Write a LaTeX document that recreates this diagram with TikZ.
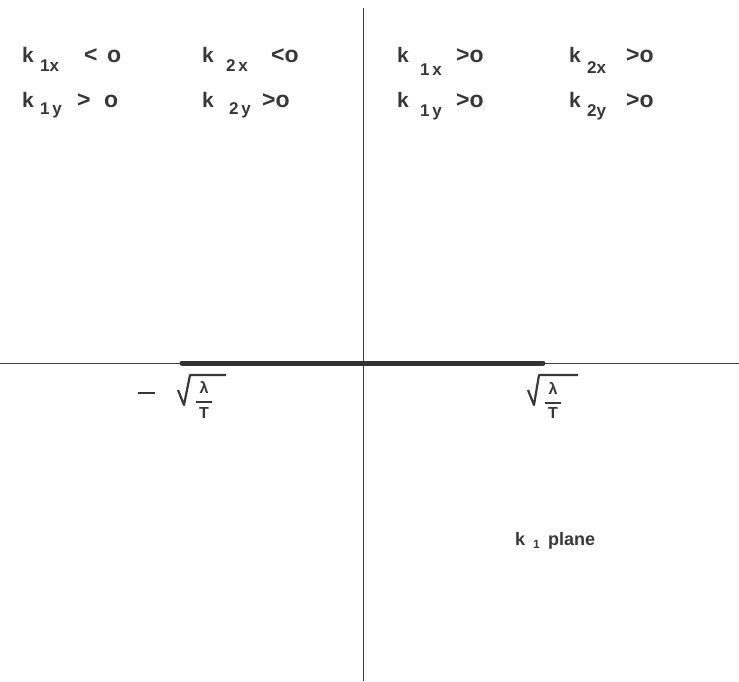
\documentclass[tikz,border=0pt]{standalone}
\usepackage{fontspec}
\setmainfont{Liberation Sans}
\begin{document}
\begin{tikzpicture}[x=1pt,y=-1pt,
  ink/.style={text=black!78},
  kk/.style={ink,anchor=base west,inner sep=0pt,font=\fontsize{21}{21}\selectfont\bfseries},
  sb/.style={ink,anchor=base west,inner sep=0pt,font=\fontsize{17}{17}\selectfont\bfseries},
  rel/.style={ink,anchor=base west,inner sep=0pt,font=\fontsize{23}{23}\selectfont\bfseries},
  frac/.style={ink,inner sep=0pt,font=\fontsize{16}{16}\selectfont\bfseries},
  axis/.style={draw=black!75,line width=1pt},
  cut/.style={draw=black!80,line width=5pt,line cap=round},
  glyph/.style={draw=black!78,line width=2.2pt,line join=round}]
\useasboundingbox (0,0) rectangle (739,681);
% axes
\coordinate (vt) at (363,8);
\coordinate (vb) at (363,681);
\coordinate (hl) at (0,363);
\coordinate (hr) at (739,363);
\coordinate (cl) at (182,363);
\coordinate (cr) at (543,363);
\draw[axis] (vt) -- (vb);
\draw[axis] (hl) -- (hr);
\draw[cut] (cl) -- (cr);
% upper left
\node[kk] (a1) at (22,62) {k};
\node[sb] (a1s) at (40,71) {1x};
\node[rel] (a1r) at (84,62) {<};
\node[rel] (a1o) at (107,62) {o};
\node[kk] (a2) at (202,62) {k};
\node[sb] (a2s) at (226,71) {2\,x};
\node[rel] (a2r) at (271,62) {<o};
\node[kk] (a3) at (22,107) {k};
\node[sb] (a3s) at (40,114) {1\,y};
\node[rel] (a3r) at (77,107) {>};
\node[rel] (a3o) at (104,107) {o};
\node[kk] (a4) at (202,107) {k};
\node[sb] (a4s) at (229,114) {2\,y};
\node[rel] (a4r) at (262,107) {>o};
% upper right
\node[kk] (b1) at (397,62) {k};
\node[sb] (b1s) at (420,75) {1\,x};
\node[rel] (b1r) at (456,62) {>o};
\node[kk] (b2) at (569,62) {k};
\node[sb] (b2s) at (587,73) {2x};
\node[rel] (b2r) at (626,62) {>o};
\node[kk] (b3) at (397,107) {k};
\node[sb] (b3s) at (420,116) {1\,y};
\node[rel] (b3r) at (456,107) {>o};
\node[kk] (b4) at (569,107) {k};
\node[sb] (b4s) at (587,116) {2y};
\node[rel] (b4r) at (626,107) {>o};
% minus sqrt(lambda/T)
\coordinate (m1) at (138,393);
\coordinate (m2) at (155,393);
\draw[glyph,line width=2.6pt] (m1) -- (m2);
\coordinate (s1) at (178,390);
\coordinate (s2) at (184,405);
\coordinate (s3) at (190,375);
\coordinate (s4) at (226,375);
\draw[glyph] (s1) -- (s2) -- (s3) -- (s4);
\node[frac] (l1) at (204,387) {λ};
\coordinate (f1) at (196,402);
\coordinate (f2) at (212,402);
\draw[glyph,line width=2pt] (f1) -- (f2);
\node[frac] (t1) at (204,413) {T};
% sqrt(lambda/T)
\coordinate (u1) at (528,390);
\coordinate (u2) at (534,405);
\coordinate (u3) at (539,375);
\coordinate (u4) at (578,375);
\draw[glyph] (u1) -- (u2) -- (u3) -- (u4);
\node[frac] (l2) at (553,388) {λ};
\coordinate (g1) at (545,403);
\coordinate (g2) at (561,403);
\draw[glyph,line width=2pt] (g1) -- (g2);
\node[frac] (t2) at (553,413) {T};
% plane label
\node[ink,anchor=base west,inner sep=0pt,font=\fontsize{18}{18}\selectfont\bfseries] (pk) at (515,545) {k};
\node[ink,anchor=base west,inner sep=0pt,font=\fontsize{12}{12}\selectfont\bfseries] (p1) at (533,548) {1};
\node[ink,anchor=base west,inner sep=0pt,font=\fontsize{18}{18}\selectfont\bfseries] (pp) at (548,545) {plane};
\end{tikzpicture}
\end{document}
